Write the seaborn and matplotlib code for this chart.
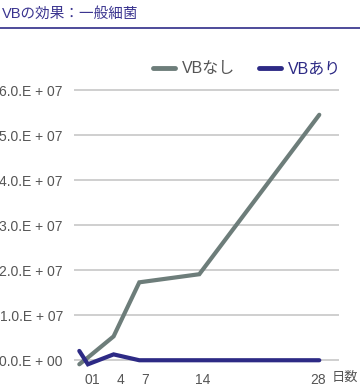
import numpy as np
import pandas as pd
import seaborn as sns
import matplotlib
matplotlib.use("Agg")
import matplotlib.pyplot as plt
from matplotlib.lines import Line2D

# データ
days = [0, 1, 4, 7, 14, 28]
vb_nashi = [-9e5, 6e5, 5.3e6, 1.73e7, 1.91e7, 5.45e7]
vb_ari = [2.07e6, -9e5, 1.3e6, 0, 0, 0]
series_names = ["VBなし", "VBあり"]
y_ticks = [0, 1e7, 2e7, 3e7, 4e7, 5e7, 6e7]
x_tick_labels = ["0", "1", "4", "7", "14", "28"]

colors = {"VBなし": "#6d7d7a", "VBあり": "#2d2a85"}
text_gray = "#555555"

sns.set_theme(style="white")
plt.rcParams['font.family'] = ['Liberation Sans', 'Noto Sans CJK JP', 'DejaVu Sans']

df = pd.DataFrame({
    "day": days * 2,
    "value": vb_nashi + vb_ari,
    "series": [series_names[0]] * len(days) + [series_names[1]] * len(days),
})

fig = plt.figure(figsize=(3.6, 3.87), dpi=100)
W, H = 360, 387
ax_left, ax_right = 74, 339
ax_top, ax_bottom = 81, 367
ax = fig.add_axes([ax_left / W, 1 - ax_bottom / H, (ax_right - ax_left) / W, (ax_bottom - ax_top) / H])

sns.lineplot(data=df, x="day", y="value", hue="series", palette=colors,
             linewidth=3, ax=ax, legend=False, sort=False, estimator=None)
for ln in ax.get_lines():
    ln.set_solid_capstyle("round")
    ln.set_solid_joinstyle("miter")

ax.set_xlim(-0.62, 30.3)
ax.set_ylim(-1.5e6, 6.2e7)

# y軸
ax.set_yticks(y_ticks)
ax.set_yticklabels([f"{v / 1e7:.1f}.E + {0 if v == 0 else 7:02d}" for v in y_ticks],
                   fontsize=10, color=text_gray)
ax.yaxis.grid(True, color="#cccccc", linewidth=1.3)
ax.set_axisbelow(True)

# x軸（ラベル位置は元図に合わせて少しずらす）
tick_pos = [(88 + 8.21 * d - 79.3) / 8.57 for d in days]
ax.set_xticks(tick_pos)
ax.set_xticklabels(x_tick_labels, fontsize=10, color=text_gray)
ax.tick_params(axis="both", length=0)
ax.tick_params(axis="y", pad=8)
ax.tick_params(axis="x", pad=4)
ax.set_xlabel("")
ax.set_ylabel("")
for s in ax.spines.values():
    s.set_visible(False)

fig.text(332 / W, 1 - 378 / H, "日数", fontsize=9.5, color=text_gray, va="center", ha="left")

# タイトルと下線
fig.text(2 / W, 1 - 14 / H, "VBの効果：一般細菌", fontsize=10.5, color="#3b3590", va="center", ha="left")
fig.add_artist(Line2D([0, 1], [1 - 28.3 / H, 1 - 28.3 / H], color="#1c1a7e", linewidth=1.1,
                      transform=fig.transFigure))

# 凡例
handles = [Line2D([], [], color=colors[n], linewidth=3.5) for n in series_names]
leg = fig.legend(handles, series_names, loc="center right", bbox_to_anchor=(341 / W, 1 - 69 / H),
                 ncol=2, frameon=False, fontsize=11.5, handlelength=1.35, handletextpad=0.45,
                 columnspacing=1.5, borderpad=0, borderaxespad=0)
leg.get_texts()[0].set_color(text_gray)
leg.get_texts()[1].set_color("#2d2a85")

fig.savefig("out.png", dpi=100)
